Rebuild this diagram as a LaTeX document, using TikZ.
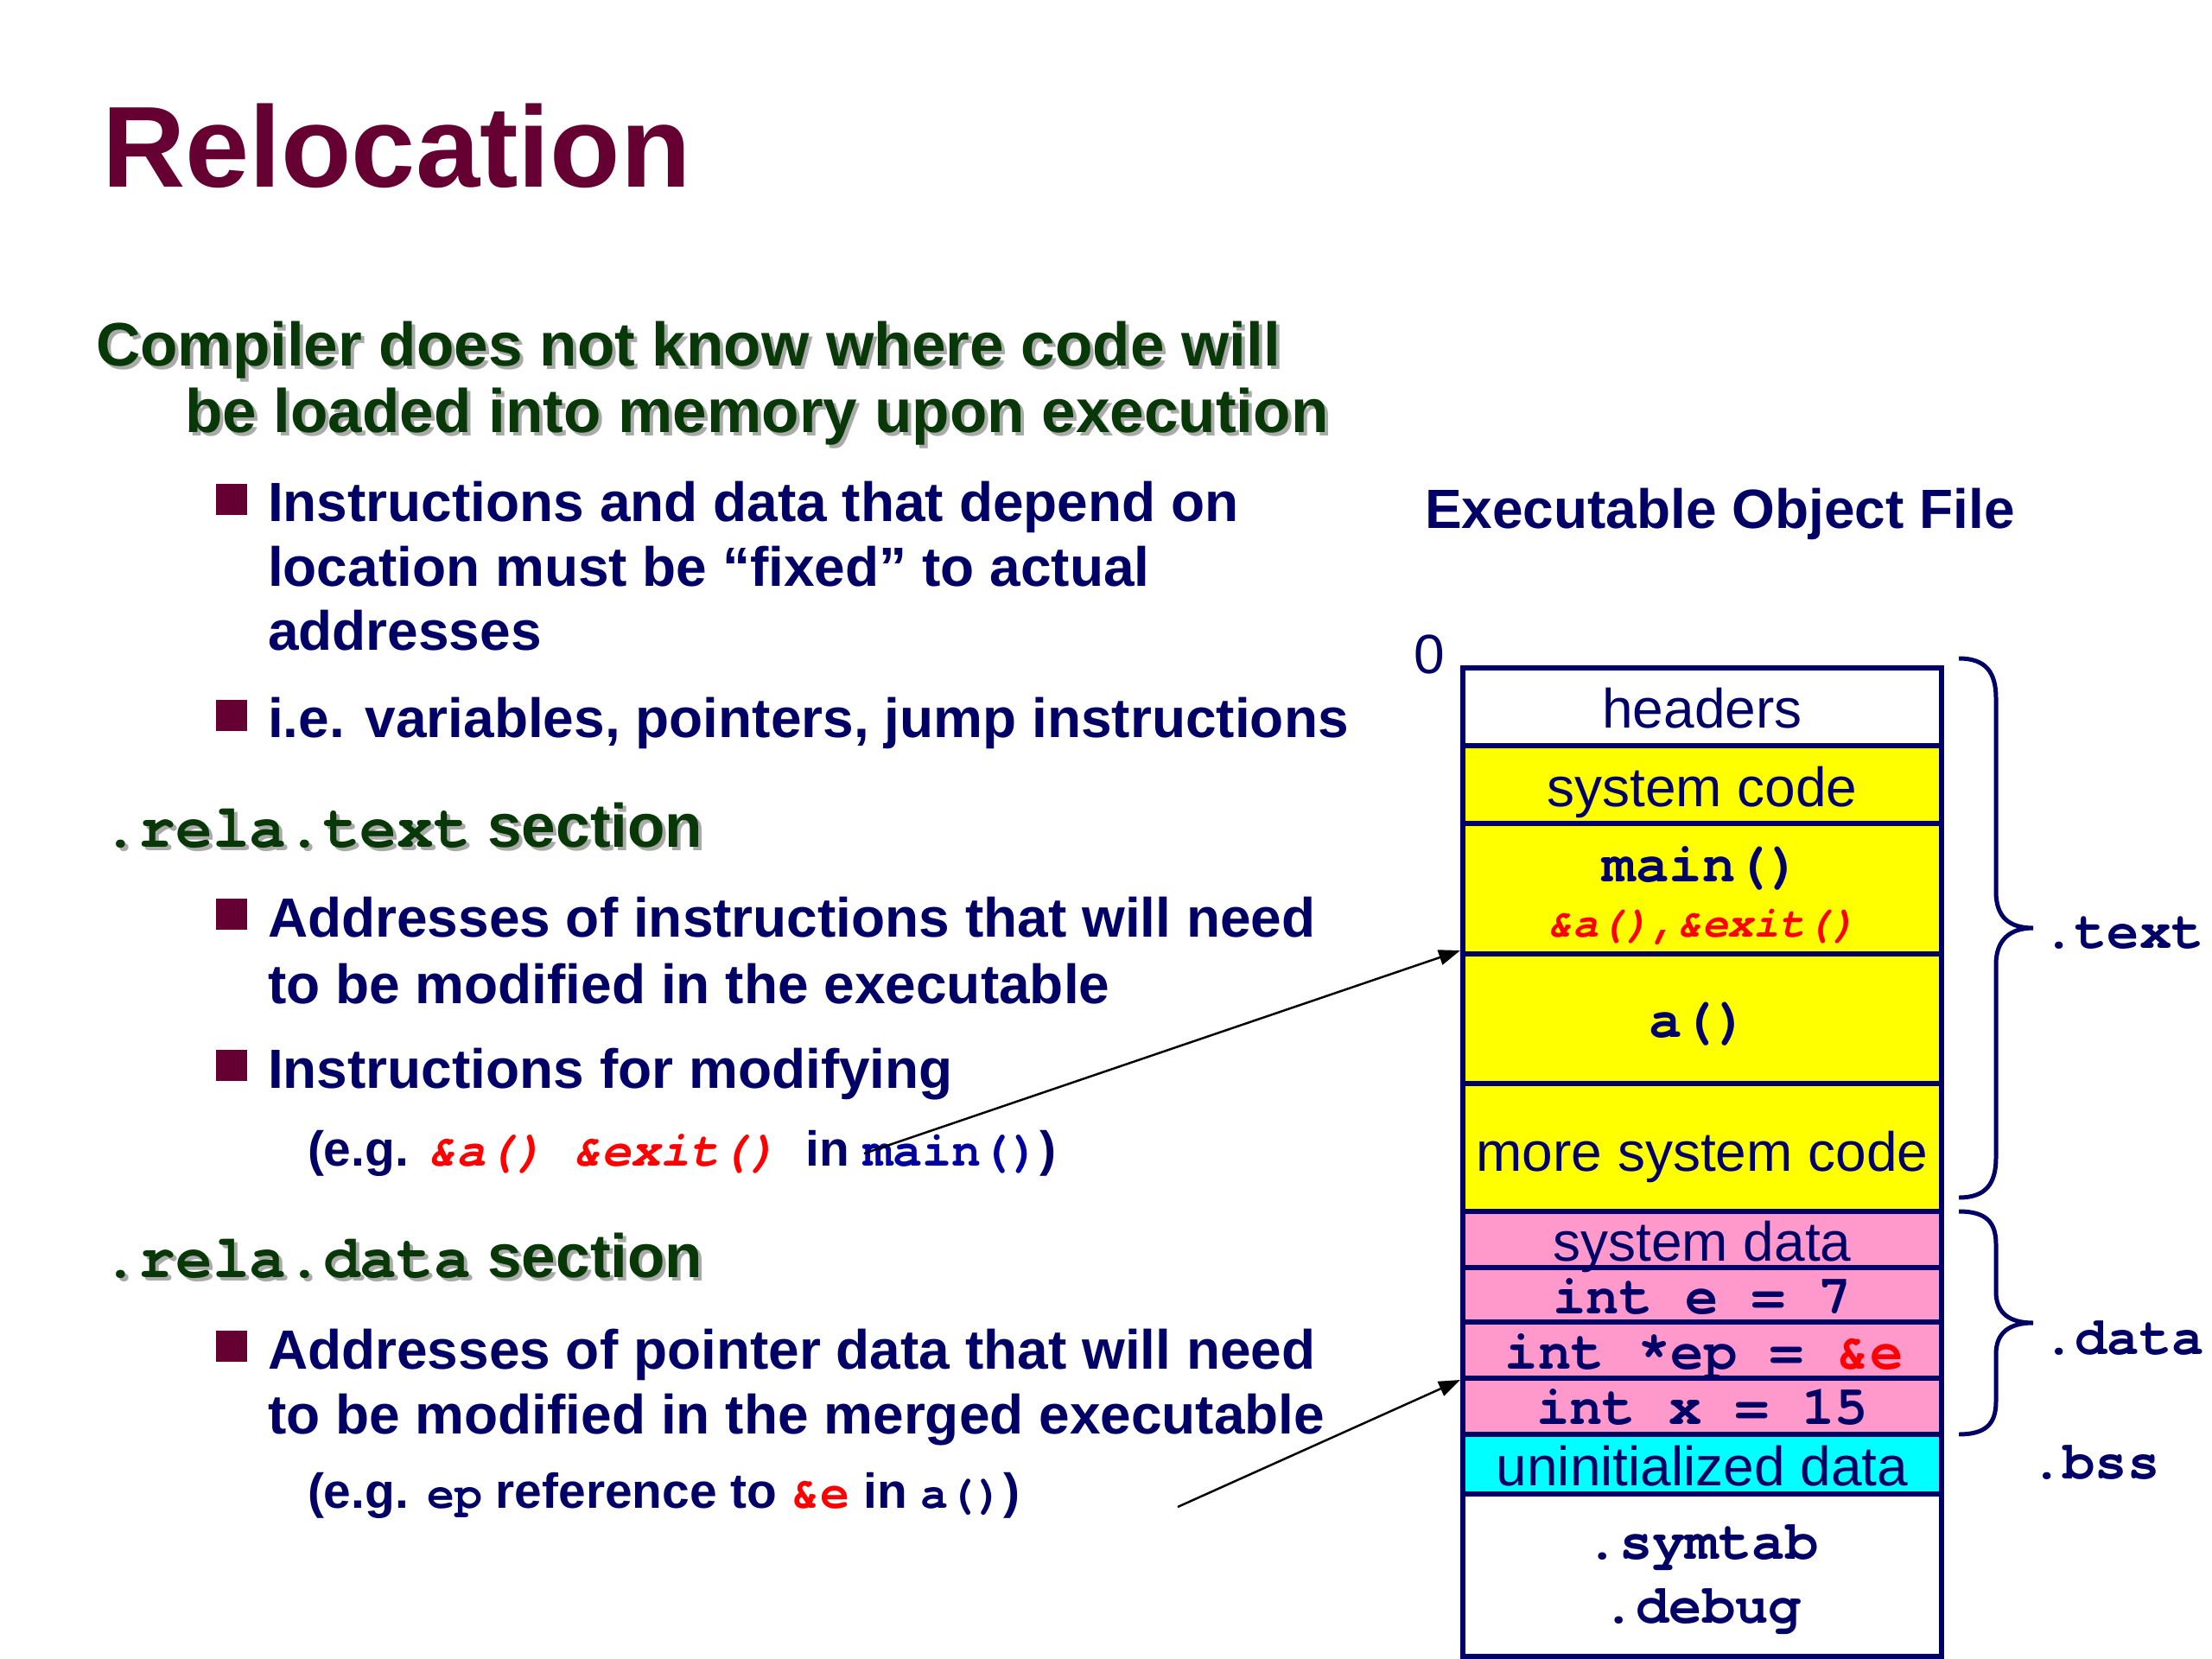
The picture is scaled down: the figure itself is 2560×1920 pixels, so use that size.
\documentclass[tikz,border=0pt]{standalone}
\usepackage{fontspec}
\setmainfont{Liberation Sans}
\setmonofont{TeX Gyre Cursor}
\usetikzlibrary{arrows.meta}
\definecolor{maroon}{RGB}{102,0,51}
\definecolor{dkgreen}{RGB}{8,56,8}
\definecolor{shgray}{RGB}{170,170,170}
\definecolor{navy}{RGB}{0,0,102}
\definecolor{codeblue}{RGB}{0,0,160}
\definecolor{cellyellow}{RGB}{255,255,0}
\definecolor{cellpink}{RGB}{255,153,204}
\definecolor{cellcyan}{RGB}{0,255,255}
\newcommand\myfs[1]{\fontsize{#1}{#1}\selectfont}
\newcommand\shtext[4]{%
  \node[lshadow] (#1s) at (#2+4,#3+4) {#4};
  \node[lone] (#1) at (#2,#3) {#4};}
\newcommand\bsq[1]{\fill[maroon] (250,#1-44) rectangle (286,#1-8);}
\begin{document}
\begin{tikzpicture}[x=0.28125pt,y=-0.28125pt,
  txt/.style={inner sep=0pt, outer sep=0pt},
  ttl/.style={txt, anchor=base west, font=\bfseries\myfs{37.5}, text=maroon},
  lone/.style={txt, anchor=base west, font=\bfseries\myfs{20}, text=dkgreen},
  lshadow/.style={lone, text=shgray},
  ltwo/.style={txt, anchor=base west, font=\bfseries\myfs{18}, text=navy},
  lex/.style={txt, anchor=base west, font=\bfseries\myfs{16}, text=navy},
  cell/.style={draw=navy, line width=1.7pt},
  ctext/.style={txt, anchor=base, font=\myfs{18}, text=navy},
  ccode/.style={txt, anchor=base, font=\ttfamily\bfseries\myfs{18}, text=navy},
  brace/.style={draw=navy, line width=1.4pt},
  ptr/.style={draw=black, line width=0.7pt, -{Triangle[length=7pt,width=5pt]}}]
\useasboundingbox[fill=white] (0,0) rectangle (2560,1920);

% title
\node[ttl] (title) at (118,217) {Relocation};

% level one
\shtext{c1}{111}{424}{Compiler does not know where code will}
\shtext{c2}{214}{501}{be loaded into memory upon execution}

\bsq{604}
\node[ltwo] (b1a) at (310,604) {Instructions and data that depend on};
\node[ltwo] (b1b) at (310,679) {location must be “fixed” to actual};
\node[ltwo] (b1c) at (310,753) {addresses};
\bsq{854}
\node[ltwo] (b2) at (310,854) {i.e. variables, pointers, jump instructions};

\shtext{h1}{118}{980}{{\ttfamily .rela.text} section}
\bsq{1084}
\node[ltwo] (b3a) at (310,1084) {Addresses of instructions that will need};
\node[ltwo] (b3b) at (310,1161) {to be modified in the executable};
\bsq{1259}
\node[ltwo] (b4) at (310,1259) {Instructions for modifying};
\node[lex] (ex1) at (356,1349) {(e.g. {\ttfamily\itshape\color{red}\&a()}\ \ {\ttfamily\itshape\color{red}\&exit()}\ \ in {\ttfamily\color{codeblue}main()})};

\shtext{h2}{118}{1478}{{\ttfamily .rela.data} section}
\bsq{1584}
\node[ltwo] (b5a) at (310,1584) {Addresses of pointer data that will need};
\node[ltwo] (b5b) at (310,1659) {to be modified in the merged executable};
\node[lex] (ex2) at (356,1745) {(e.g. {\ttfamily\myfs{15}ep} reference to {\ttfamily\color{red}\&e} in {\ttfamily\myfs{15}a()})};

% right side
\node[ltwo] (eof) at (1649,612) {Executable Object File};
\node[txt, anchor=base west, font=\myfs{18}, text=navy] (zero) at (1636,780) {0};

\path[cell, fill=white]      (1693,773)  rectangle (2247,863);
\path[cell, fill=cellyellow] (1693,863)  rectangle (2247,953);
\path[cell, fill=cellyellow] (1693,953)  rectangle (2247,1104);
\path[cell, fill=cellyellow] (1693,1104) rectangle (2247,1254);
\path[cell, fill=cellyellow] (1693,1254) rectangle (2247,1402);
\path[cell, fill=cellpink]   (1693,1402) rectangle (2247,1467);
\path[cell, fill=cellpink]   (1693,1467) rectangle (2247,1530);
\path[cell, fill=cellpink]   (1693,1530) rectangle (2247,1595);
\path[cell, fill=cellpink]   (1693,1595) rectangle (2247,1660);
\path[cell, fill=cellcyan]   (1693,1660) rectangle (2247,1729);
\path[cell, fill=white]      (1693,1729) rectangle (2247,1917);

\node[ctext] (hdr) at (1970,842) {headers};
\node[ctext] (sysc) at (1970,934) {system code};
\node[ccode] (mainf) at (1970,1020) {main()};
\node[txt, anchor=base, font=\ttfamily\bfseries\itshape\myfs{14}, text=red] (refs) at (1970,1084) {\&a(),\&exit()};
\node[ccode] (af) at (1966,1200) {a()};
\node[ctext] (msys) at (1970,1355) {more system code};
\node[ctext] (sysd) at (1970,1459) {system data};
\node[ccode] (ie) at (1970,1520) {int e = 7};
\node[ccode] (iep) at (1972,1584) {int *ep = {\color{red}\&e}};
\node[ccode] (ix) at (1970,1648) {int x = 15};
\node[ctext] (unin) at (1970,1719) {uninitialized data};
\node[ccode] (symt) at (1970,1804) {.symtab};
\node[ccode] (dbg) at (1970,1878) {.debug};

% braces
\draw[brace] (2267,762) .. controls (2298,762) and (2310,778) .. (2310,808) -- (2310,1032)
  .. controls (2310,1062) and (2326,1074) .. (2353,1074)
  .. controls (2326,1074) and (2310,1088) .. (2310,1116) -- (2310,1340)
  .. controls (2310,1370) and (2298,1386) .. (2267,1386);
\draw[brace] (2267,1402) .. controls (2298,1402) and (2310,1414) .. (2310,1440) -- (2310,1495)
  .. controls (2310,1520) and (2326,1531) .. (2353,1531)
  .. controls (2326,1531) and (2310,1542) .. (2310,1567) -- (2310,1622)
  .. controls (2310,1648) and (2298,1660) .. (2267,1660);

\node[ccode, anchor=base west, font=\ttfamily\bfseries\myfs{17.5}] (ltext) at (2364,1097) {.text};
\node[ccode, anchor=base west, font=\ttfamily\bfseries\myfs{17.5}] (ldata) at (2364,1567) {.data};
\node[ccode, anchor=base west, font=\ttfamily\bfseries\myfs{17.5}] (lbss) at (2350,1711) {.bss};

% pointers
\coordinate (p1s) at (1000,1335);
\coordinate (p1e) at (1690,1100);
\coordinate (p2s) at (1363,1744);
\coordinate (p2e) at (1690,1597);
\draw[ptr] (p1s) -- (p1e);
\draw[ptr] (p2s) -- (p2e);
\end{tikzpicture}
\end{document}
